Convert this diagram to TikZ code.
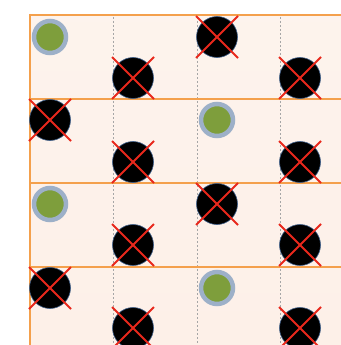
\documentclass[tikz,border=0pt]{standalone}
\usetikzlibrary{calc}
\definecolor{peach}{HTML}{FDF0E8}
\definecolor{orangeline}{HTML}{F4A04C}
\definecolor{ringblue}{HTML}{9DB0C8}
\definecolor{olive}{HTML}{7E9E3C}
\definecolor{xred}{HTML}{E8281C}
\definecolor{glow}{HTML}{3A5C88}
\tikzset{
  queen/.style={circle, fill=olive, draw=ringblue, line width=4.5pt, minimum size=32pt, inner sep=0pt},
  blocked/.style={circle, fill=black, draw=glow, line width=0.6pt, minimum size=41pt, inner sep=0pt},
  crossline/.style={xred, line width=1.8pt},
  rowline/.style={orangeline, line width=1.8pt},
  colline/.style={gray!70, line width=1pt, dash pattern=on 2pt off 2pt}
}
\newcommand{\xnode}[3]{%
  \node[blocked] (#1) at (#2,#3) {};
  \draw[crossline] ($(#1)+(-21,-21)$) -- ($(#1)+(21,21)$);
  \draw[crossline] ($(#1)+(-21,21)$) -- ($(#1)+(21,-21)$);
}
\begin{document}
\begin{tikzpicture}[x=1pt,y=-1pt]
\useasboundingbox (0,0) rectangle (340,345);
\fill[white] (0,0) rectangle (340,345);
\shade[top color=peach!80!white, bottom color=peach] (30,15) rectangle (342,347);
% dotted columns
\foreach \cx in {113,197,280} \draw[colline] (\cx,17) -- (\cx,345);
% rows
\foreach \ry in {15,99,183,267} \draw[rowline] (30,\ry) -- (342,\ry);
\draw[rowline] (30,14) -- (30,347);
% row 1
\node[queen] (q1) at (50,37) {};
\xnode{a2}{133}{78}
\xnode{a3}{217}{37}
\xnode{a4}{300}{78}
% row 2
\xnode{b1}{50}{120}
\xnode{b2}{133}{162}
\node[queen] (q2) at (217,120) {};
\xnode{b4}{300}{162}
% row 3
\node[queen] (q3) at (50,204) {};
\xnode{c2}{133}{245}
\xnode{c3}{217}{204}
\xnode{c4}{300}{245}
% row 4
\xnode{d1}{50}{288}
\xnode{d2}{133}{328}
\node[queen] (q4) at (217,288) {};
\xnode{d4}{300}{328}
\end{tikzpicture}
\end{document}
